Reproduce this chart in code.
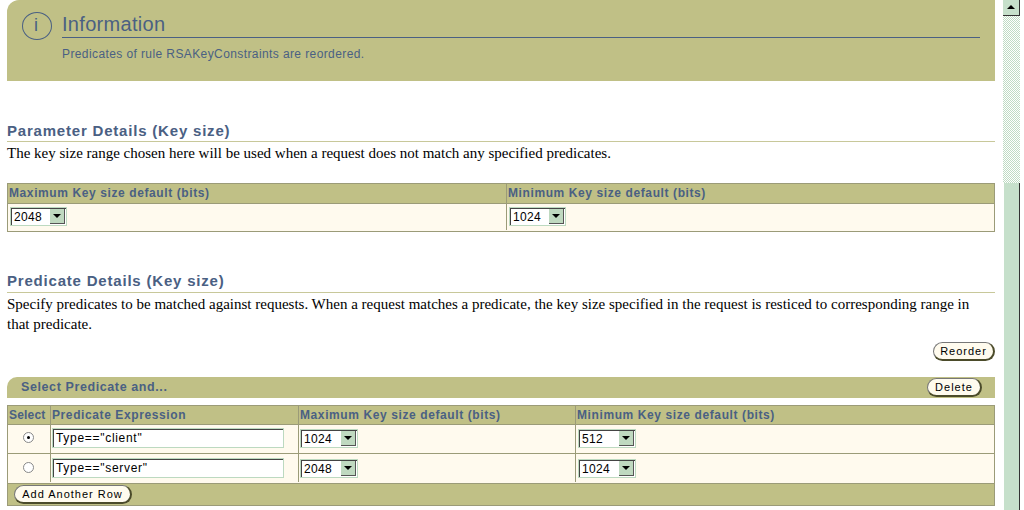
<!DOCTYPE html>
<html><head><meta charset="utf-8">
<script src="https://cdn.jsdelivr.net/npm/chart.js@4"></script>
<style>
body{margin:0;width:1024px;height:510px;overflow:hidden;background:#fff;font-family:Arial,"Liberation Sans",sans-serif;position:relative}
.a{position:absolute}
.blue{color:#4a6083}
.olive{background:#c0c086}
.sel{position:absolute;height:19px;border:1px solid #bcd9c0;background:#fff;box-sizing:border-box;font-size:12px}
.sel span{position:absolute;left:3px;top:2px;color:#000;letter-spacing:0.3px}
.sel i{position:absolute;right:1px;top:1px;width:15px;height:15px;background:#bfd9c0;border-right:1px solid #555;border-bottom:1px solid #555;box-sizing:border-box}
.sel i:after{content:"";position:absolute;left:3px;top:5px;border-left:4px solid transparent;border-right:4px solid transparent;border-top:4px solid #000}
.sel:before{content:"";position:absolute;left:0;top:0;right:0;bottom:0;border-top:1px solid #444;border-left:1px solid #444}
.btn{position:absolute;height:19px;border-radius:10px;background:#fffbee;border:1px solid #777;border-right:2px solid #4b4b2a;border-bottom:2px solid #4b4b2a;box-sizing:border-box;font-size:11px;letter-spacing:1px;text-align:center;line-height:16px;color:#000}
.hdr{font-weight:bold;font-size:12px;letter-spacing:0.6px;color:#4a6083}
.serif{font-family:"Liberation Serif","Times New Roman",serif;font-size:15px;color:#000}
.txt{position:absolute;height:20px;border:1px solid #bcd9c0;background:#fff;box-sizing:border-box;font-size:12px}
.txt:before{content:"";position:absolute;left:0;top:0;right:0;bottom:0;border-top:1px solid #444;border-left:1px solid #444}
.txt span{position:absolute;left:3px;top:2px;letter-spacing:0.7px}
</style></head><body>
<script>
const infoTitle = "Information";
const infoMessage = "Predicates of rule RSAKeyConstraints are reordered.";
const paramHeaders = ["Maximum Key size default (bits)", "Minimum Key size default (bits)"];
const paramValues = ["2048", "1024"];
const predHeaders = ["Select", "Predicate Expression", "Maximum Key size default (bits)", "Minimum Key size default (bits)"];
const predExpressions = ['Type=="client"', 'Type=="server"'];
const predMax = ["1024", "2048"];
const predMin = ["512", "1024"];
const selectedRow = 0;

function el(tag, cls, style, html){const e=document.createElement(tag);if(cls)e.className=cls;if(style)e.style.cssText=style;if(html!=null)e.innerHTML=html;document.body.appendChild(e);return e;}
function sel(x,y,w,v){const s=el('div','sel',`left:${x}px;top:${y}px;width:${w}px`);s.innerHTML=`<span>${v}</span><i></i>`;}

// Info box
el('div','a olive','left:7px;top:0;width:988px;height:81px;border-top-left-radius:12px');
el('div','a','left:22px;top:12px;width:28px;height:26px;border:1px solid #4a6083;border-radius:50%');
el('div','a blue','left:34px;top:15px;font-size:18px','i');
el('div','a blue','left:62px;top:13px;font-size:20px;letter-spacing:0.3px',infoTitle);
el('div','a','left:62px;top:37px;width:918px;height:1px;background:#4a6083');
el('div','a blue','left:62px;top:47px;font-size:12px;letter-spacing:0.4px',infoMessage);

// Parameter details
el('div','a blue','left:7px;top:122px;font-size:15px;font-weight:bold;letter-spacing:0.8px','Parameter Details (Key size)');
el('div','a','left:7px;top:141px;width:988px;height:1px;background:#c8c89a');
el('div','a serif','left:7px;top:145px','The key size range chosen here will be used when a request does not match any specified predicates.');
el('div','a','left:7px;top:183px;width:986px;height:47px;border:1px solid #9b9b78;background:#fffaee');
el('div','a olive','left:8px;top:184px;width:986px;height:19px;border-bottom:1px solid #9b9b78');
el('div','a','left:506px;top:184px;width:1px;height:46px;background:#9b9b78');
el('div','a hdr','left:9px;top:186px',paramHeaders[0]);
el('div','a hdr','left:508px;top:186px',paramHeaders[1]);
sel(10,207,57,paramValues[0]);
sel(509,207,57,paramValues[1]);

// Predicate details
el('div','a blue','left:7px;top:272px;font-size:15px;font-weight:bold;letter-spacing:0.8px','Predicate Details (Key size)');
el('div','a','left:7px;top:292px;width:988px;height:1px;background:#c8c89a');
el('div','a serif','left:7px;top:294px;width:975px;line-height:20px','Specify predicates to be matched against requests. When a request matches a predicate, the key size specified in the request is resticed to corresponding range in that predicate.');
el('div','btn','left:933px;top:342px;width:62px','Reorder');
el('div','a olive','left:7px;top:377px;width:988px;height:21px;border-top-left-radius:10px');
el('div','a hdr','left:21px;top:380px;font-size:12.5px','Select Predicate and...');
el('div','btn','left:927px;top:378px;width:55px','Delete');

// Predicate table
el('div','a','left:7px;top:405px;width:986px;height:99px;border:1px solid #9b9b78;background:#fffaee');
el('div','a olive','left:8px;top:406px;width:986px;height:18px;border-bottom:1px solid #9b9b78');
el('div','a olive','left:8px;top:483px;width:986px;height:21px;border-top:1px solid #9b9b78');
el('div','a','left:8px;top:453px;width:986px;height:1px;background:#9b9b78');
[50,298,575].forEach(x=>el('div','a',`left:${x}px;top:406px;width:1px;height:76px;background:#9b9b78`));
const colX=[9,52,300,577];
predHeaders.forEach((h,i)=>el('div','a hdr',`left:${colX[i]}px;top:408px;${i===0?'letter-spacing:0.2px':''}`,h));
predExpressions.forEach((p,r)=>{
  const y=428+r*30;
  el('div','a',`left:23px;top:${y+4}px;width:9px;height:9px;border-radius:50%;border:1px solid #888;background:#fff`);
  if(r===selectedRow) el('div','a',`left:27px;top:${y+8}px;width:3px;height:3px;border-radius:50%;background:#000`);
  const t=el('div','txt',`left:52px;top:${y}px;width:232px`);t.innerHTML=`<span>${p}</span>`;
  sel(300,y+1,58,predMax[r]);
  sel(578,y+1,58,predMin[r]);
});
el('div','btn','left:14px;top:485px;width:118px','Add Another Row');

// Scrollbar
el('div','a','left:1003px;top:0;width:17px;height:510px;background:repeating-conic-gradient(#bfdcc4 0 25%,#fff 0 50%) 0 0/2px 2px');
el('div','a','left:1003px;top:0;width:17px;height:16px;background:#c6e0cb;border-right:1px solid #333;border-bottom:1px solid #333;box-sizing:border-box');
el('div','a','left:1007px;top:5px;border-left:4px solid transparent;border-right:4px solid transparent;border-bottom:4px solid #000');
el('div','a','left:1003px;top:183px;width:17px;height:327px;background:#c6e0cb;border-left:1px solid #fff;border-right:1px solid #333;box-sizing:border-box');
</script>
</body></html>
